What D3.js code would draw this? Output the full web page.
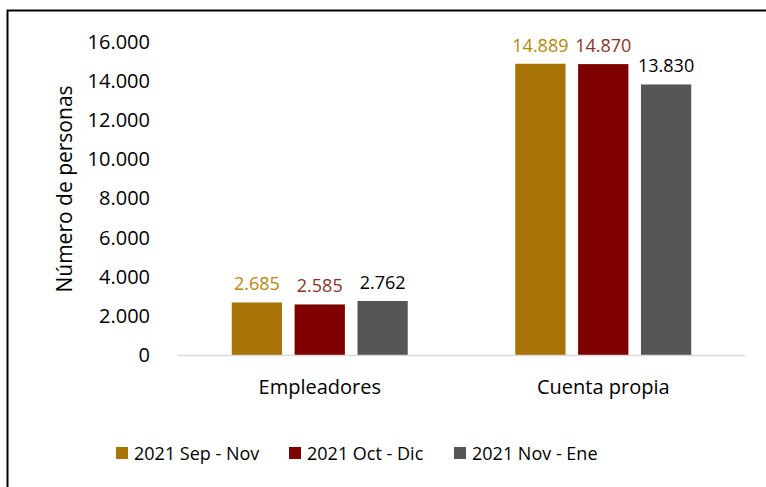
<!DOCTYPE html>
<html>
<head>
<meta charset="utf-8">
<script src="https://cdn.jsdelivr.net/npm/d3@7/dist/d3.min.js"></script>
<style>
  body { margin: 0; background: #fff; }
  text { font-family: "Open Sans", sans-serif; fill: #000; }
</style>
</head>
<body>
<div id="chart"></div>
<script>
  var categories = ['Empleadores', 'Cuenta propia'];
  var seriesNames = ['2021 Sep - Nov', '2021 Oct - Dic', '2021 Nov - Ene'];
  var sepNov = [2685, 14889];
  var octDic = [2585, 14870];
  var novEne = [2762, 13830];
  var yTicks = [0, 2000, 4000, 6000, 8000, 10000, 12000, 14000, 16000];

  var barColors = ['#A87407', '#7F0000', '#565656'];
  var labelColors = ['#B8860B', '#8B3229', '#000000'];
  var seriesValues = [sepNov, octDic, novEne];

  var width = 766,
    height = 487,
    plotLeft = 178,
    plotRight = 745,
    plotTop = 42,
    plotBottom = 355;

  var fmt = function(v) {
    return d3.format(',')(v).replace(/,/g, '.');
  };

  var svg = d3.select('#chart')
    .append('svg')
    .attr('width', width)
    .attr('height', height);

  // outer frame (runs off the right and bottom edge)
  svg.append('rect')
    .attr('x', 7.5)
    .attr('y', 10.5)
    .attr('width', 780)
    .attr('height', 500)
    .attr('fill', 'none')
    .attr('stroke', '#000')
    .attr('stroke-width', 2);

  var x0 = d3.scaleBand()
    .domain(categories)
    .range([plotLeft, plotRight]);

  var x1 = d3.scaleBand()
    .domain(seriesNames)
    .range([0, 176])
    .paddingInner(0.2);

  var y = d3.scaleLinear()
    .domain([0, 16000])
    .range([plotBottom, plotTop]);

  // y axis labels
  var yAxis = d3.axisLeft(y)
    .tickValues(yTicks)
    .tickSize(0)
    .tickPadding(0)
    .tickFormat(fmt);

  var gy = svg.append('g')
    .attr('transform', 'translate(150,0)')
    .call(yAxis);
  gy.select('.domain').remove();
  gy.selectAll('text')
    .style('font-family', '"Open Sans", sans-serif')
    .style('font-size', '20px')
    .attr('fill', '#000');

  svg.append('text')
    .attr('transform', 'translate(72,189) rotate(-90)')
    .attr('text-anchor', 'middle')
    .style('font-size', '21px')
    .text('Número de personas');

  // bars
  var groups = svg.selectAll('.cat')
    .data(categories)
    .enter().append('g')
    .attr('class', 'cat')
    .attr('transform', function(d) {
      return 'translate(' + (x0(d) + x0.bandwidth() / 2 - 88) + ',0)';
    });

  seriesNames.forEach(function(name, s) {
    groups.append('rect')
      .attr('x', x1(name))
      .attr('y', function(d, i) { return y(seriesValues[s][i]); })
      .attr('width', x1.bandwidth())
      .attr('height', function(d, i) { return plotBottom - y(seriesValues[s][i]); })
      .attr('fill', barColors[s]);

    groups.append('text')
      .attr('x', x1(name) + x1.bandwidth() / 2)
      .attr('y', function(d, i) { return y(seriesValues[s][i]) - 12; })
      .attr('text-anchor', 'middle')
      .style('font-size', '18px')
      .style('fill', labelColors[s])
      .text(function(d, i) { return fmt(seriesValues[s][i]); });
  });

  // baseline
  svg.append('line')
    .attr('x1', plotLeft)
    .attr('x2', plotRight)
    .attr('y1', plotBottom + 0.5)
    .attr('y2', plotBottom + 0.5)
    .attr('stroke', '#d9d9d9')
    .attr('stroke-width', 1.5);

  // category labels
  svg.selectAll('.catLabel')
    .data(categories)
    .enter().append('text')
    .attr('x', function(d) { return x0(d) + x0.bandwidth() / 2; })
    .attr('y', 394)
    .attr('text-anchor', 'middle')
    .style('font-size', '20px')
    .text(function(d) { return d; });

  // legend
  var legendX = [116, 289, 454];
  var legend = svg.selectAll('.legend')
    .data(seriesNames)
    .enter().append('g')
    .attr('class', 'legend')
    .attr('transform', function(d, i) {
      return 'translate(' + legendX[i] + ',447)';
    });

  legend.append('rect')
    .attr('width', 12)
    .attr('height', 12)
    .attr('fill', function(d, i) { return barColors[i]; });

  legend.append('text')
    .attr('x', 18)
    .attr('y', 13)
    .style('font-size', '18px')
    .text(function(d) { return d; });
</script>
</body>
</html>
